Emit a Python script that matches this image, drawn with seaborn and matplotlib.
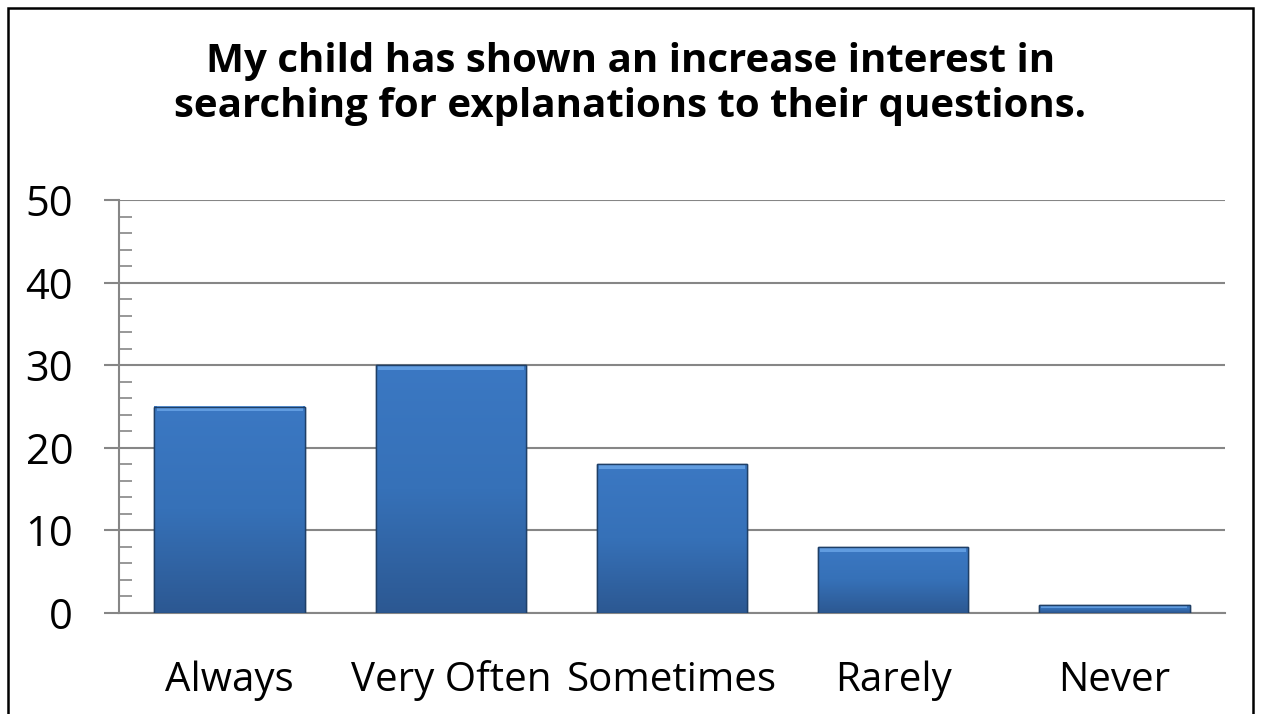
import matplotlib
matplotlib.use('Agg')
import numpy as np
import pandas as pd
import matplotlib.pyplot as plt
import seaborn as sns
from matplotlib.patches import Rectangle
from matplotlib.colors import LinearSegmentedColormap

# Survey answers
categories = ['Always', 'Very Often', 'Sometimes', 'Rarely', 'Never']
counts = [25, 30, 18, 8, 1]
title = 'My child has shown an increase interest in\nsearching for explanations to their questions.'

df = pd.DataFrame({'answer': categories, 'count': counts})

sns.set_theme(style='white')
plt.rcParams['font.family'] = ['Open Sans', 'DejaVu Sans']
plt.rcParams['text.color'] = 'black'

GRID = '#868686'
fig = plt.figure(figsize=(12.61, 7.14), dpi=100)
ax = fig.add_axes([119 / 1261, 1 - 613 / 714, (1225 - 119) / 1261, (613 - 200) / 714])

sns.barplot(data=df, x='answer', y='count', color='#3a74bd', width=0.68,
            edgecolor='#1f3f66', linewidth=1.0, saturation=1, ax=ax, zorder=3)

# gradient fill in each bar, roughly like the Excel bevel look
cmap = LinearSegmentedColormap.from_list('bar', ['#2c5892', '#3671b8', '#3b78c3'])
grad = np.linspace(0, 1, 256).reshape(-1, 1)
for p in ax.patches:
    x0, y0 = p.get_x(), p.get_y()
    w, h = p.get_width(), p.get_height()
    im = ax.imshow(grad, cmap=cmap, aspect='auto', origin='lower',
                   extent=[x0, x0 + w, y0, y0 + h], zorder=3.5)
    im.set_clip_path(p)
    # light bevel strip on top
    bev = min(0.6, h * 0.35)
    ax.add_patch(Rectangle((x0 + 0.01, y0 + h - bev), w - 0.02, bev,
                           facecolor='#6aa6e8', edgecolor='none', alpha=0.8, zorder=3.6))
    ax.add_patch(Rectangle((x0, y0), w, h, facecolor='none', edgecolor='#1f3f66',
                           linewidth=1.0, zorder=3.8))

ax.set_xlim(-0.5, len(categories) - 0.5)
ax.set_ylim(0, 50)
ax.set_yticks(np.arange(0, 51, 10))
ax.set_yticks(np.arange(0, 51, 2), minor=True)
ax.yaxis.grid(True, which='major', color=GRID, linewidth=1.5, zorder=0)
ax.set_axisbelow(True)

# category boundaries as ticks, labels in the middle
ax.set_xticks(np.arange(-0.5, len(categories), 1))
ax.set_xticklabels([])
ax.set_xticks(np.arange(len(categories)), minor=True)
ax.set_xticklabels(categories, minor=True)
ax.tick_params(axis='x', which='major', direction='out', length=11, width=1.5, color=GRID)
ax.tick_params(axis='x', which='minor', length=0, pad=34, labelsize=29, labelcolor='black')
ax.tick_params(axis='y', which='major', direction='out', length=11, width=1.5, color=GRID,
               pad=22, labelsize=30, labelcolor='black', left=True)
ax.tick_params(axis='y', which='minor', direction='in', length=9, width=1.2, color=GRID, left=True)

ax.set_xlabel('')
ax.set_ylabel('')
sns.despine(ax=ax, top=True, right=True)
for side in ['left', 'bottom']:
    ax.spines[side].set_color(GRID)
    ax.spines[side].set_linewidth(1.5)

fig.text(0.5, 1 - 84 / 714, title, ha='center', va='center', fontsize=29,
         fontweight='bold', linespacing=1.2, color='black')

fig.patches.append(Rectangle((8 / 1261, -0.05), (1253 - 8) / 1261, 1.05 - 8 / 714,
                             transform=fig.transFigure, facecolor='none',
                             edgecolor='black', linewidth=1.8))

fig.savefig('out.png', dpi=100)
